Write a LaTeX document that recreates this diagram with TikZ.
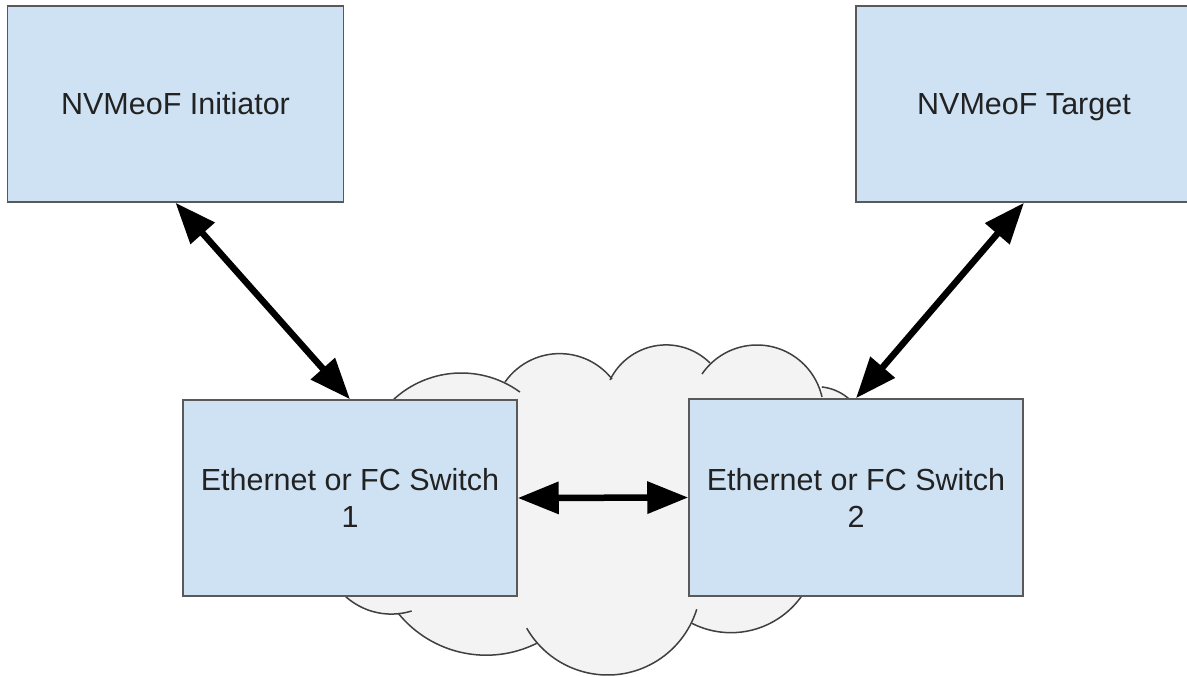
\documentclass[tikz,border=0pt]{standalone}
\usepackage{fontspec}
\setmainfont{Liberation Sans}
\usetikzlibrary{arrows.meta,calc}
\definecolor{boxfill}{HTML}{CFE2F3}
\definecolor{boxline}{HTML}{595959}
\definecolor{cloudfill}{HTML}{F3F3F3}
\definecolor{cloudline}{HTML}{404040}
\definecolor{txt}{HTML}{222222}
\begin{document}
\begin{tikzpicture}[x=1pt,y=-1pt,
  box/.style={draw=boxline, line width=1.5pt, fill=boxfill, inner sep=0pt,
    text=txt, align=center, font=\fontsize{30.5}{37}\selectfont},
  link/.style={line width=6.5pt, {Triangle[length=41pt,width=31pt]}-{Triangle[length=41pt,width=31pt]}},
  lobe/.style={draw=cloudline, line width=1.5pt}]
\clip (0,0) rectangle (1187,677);
\fill[white] (0,0) rectangle (1187,677);
% cloud lobe centres
\coordinate (cA) at (461.3,472.8);
\coordinate (cB) at (559.6,420.3);
\coordinate (cC) at (666.1,407.3);
\coordinate (cD) at (757.0,411.6);
\coordinate (cE) at (816.7,435.7);
\coordinate (cF) at (391.3,545.9);
\coordinate (cG) at (486.2,541.9);
\coordinate (cH) at (607.6,581.7);
\coordinate (cI) at (731.0,546.3);
% cloud fill
\fill[cloudfill]
  ($(cA)+(-140:99.8)$) arc[start angle=-140,end angle=-54,radius=99.8]
  -- ($(cB)+(-145:66.7)$) arc[start angle=-145,end angle=-38.2,radius=66.7]
  -- ($(cC)+(-154:62.4)$) arc[start angle=-154,end angle=-45.3,radius=62.4]
  -- ($(cD)+(-145.6:66.6)$) arc[start angle=-145.6,end angle=-12.7,radius=66.6]
  -- ($(cE)+(-84:49)$) arc[start angle=-84,end angle=-20,radius=49]
  -- (900,450)
  -- ($(cI)+(25:86.4)$) arc[start angle=25,end angle=117,radius=86.4]
  -- ($(cH)+(17.2:93.3)$) arc[start angle=17.2,end angle=150.1,radius=93.3]
  -- ($(cG)+(63.5:113.3)$) arc[start angle=63.5,end angle=140.9,radius=113.3]
  -- ($(cF)+(72.6:68.2)$) arc[start angle=72.6,end angle=140,radius=68.2]
  -- cycle;
% cloud outline
\draw[lobe] ($(cA)+(-140:99.8)$) arc[start angle=-140,end angle=-54,radius=99.8];
\draw[lobe] ($(cB)+(-145:66.7)$) arc[start angle=-145,end angle=-38.2,radius=66.7];
\draw[lobe] ($(cC)+(-154:62.4)$) arc[start angle=-154,end angle=-45.3,radius=62.4];
\draw[lobe] ($(cD)+(-145.6:66.6)$) arc[start angle=-145.6,end angle=-12.7,radius=66.6];
\draw[lobe] ($(cE)+(-84:49)$) arc[start angle=-84,end angle=-20,radius=49];
\draw[lobe] ($(cF)+(140:68.2)$) arc[start angle=140,end angle=72.6,radius=68.2];
\draw[lobe] ($(cG)+(140.9:113.3)$) arc[start angle=140.9,end angle=63.5,radius=113.3];
\draw[lobe] ($(cH)+(150.1:93.3)$) arc[start angle=150.1,end angle=17.2,radius=93.3];
\draw[lobe] ($(cI)+(117:86.4)$) arc[start angle=117,end angle=25,radius=86.4];
% boxes
\node[box, minimum width=336pt, minimum height=196pt] (init) at (175.5,104) {NVMeoF Initiator};
\node[box, minimum width=336pt, minimum height=196pt, text depth=0pt] (target) at (1024,104) {NVMeoF Target};
\node[box, minimum width=334pt, minimum height=196pt] (sw1) at (350,498) {Ethernet or FC Switch\\1};
\node[box, minimum width=334pt, minimum height=197pt] (sw2) at (856,497.5) {Ethernet or FC Switch\\2};
% connectors
\draw[link] (init.south) -- (sw1.north);
\draw[link] (target.south) -- (sw2.north);
\draw[link] (sw1.east) -- (sw2.west);
\end{tikzpicture}
\end{document}
